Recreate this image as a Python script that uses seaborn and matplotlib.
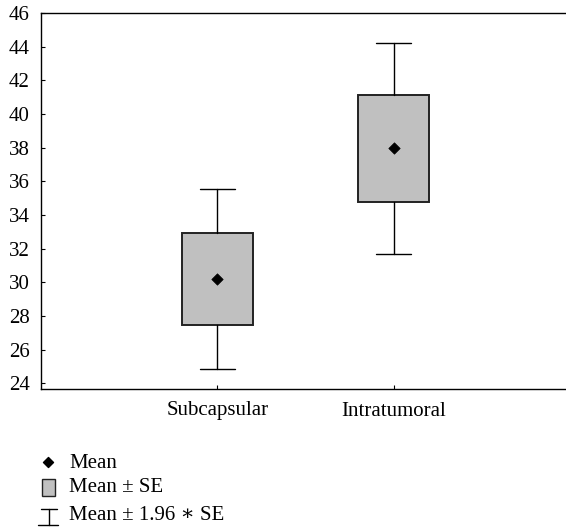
import numpy as np
import matplotlib
matplotlib.use("Agg")
import matplotlib.pyplot as plt
import seaborn as sns

# values
categories = ["Subcapsular", "Intratumoral"]
means = [30.22, 37.95]
se = [2.73, 3.19]
yticks = [24, 26, 28, 30, 32, 34, 36, 38, 40, 42, 44, 46]

sns.set_style("ticks")
plt.rcParams["font.family"] = ["Liberation Serif", "DejaVu Serif"]
plt.rcParams["font.size"] = 15
plt.rcParams["text.color"] = "black"
plt.rcParams["xtick.color"] = "black"
plt.rcParams["ytick.color"] = "black"
plt.rcParams["axes.edgecolor"] = "black"

fig = plt.figure(figsize=(5.66, 5.29), dpi=100)
ax = fig.add_axes([41 / 566, 1 - 389 / 529, (570 - 41) / 566, (389 - 13) / 529])

positions = np.arange(len(categories))
stats = []
for m, s in zip(means, se):
    stats.append({
        "med": m, "mean": m,
        "q1": m - s, "q3": m + s,
        "whislo": m - 1.96 * s, "whishi": m + 1.96 * s,
        "fliers": [],
    })

ax.bxp(stats, positions=positions, widths=0.4, capwidths=0.2,
       patch_artist=True, showfliers=False,
       boxprops={"facecolor": "#c0c0c0", "edgecolor": "#222222", "linewidth": 1.4},
       whiskerprops={"color": "black", "linewidth": 1.0},
       capprops={"color": "black", "linewidth": 1.0},
       medianprops={"linewidth": 0})

sns.scatterplot(x=positions, y=means, marker="D", s=34, color="black",
                edgecolor="black", ax=ax, zorder=5, legend=False)

ax.set_xlim(-1, 2)
ax.set_ylim(23.66, 46)
ax.set_yticks(yticks)
ax.set_xticks(positions)
ax.set_xticklabels(categories)
ax.tick_params(direction="in", length=3, width=0.8, labelsize=15,
               labelcolor="black")
ax.tick_params(axis="x", pad=9)
ax.tick_params(axis="y", pad=8)
for side in ["left", "bottom", "top"]:
    ax.spines[side].set_linewidth(1.0)
ax.spines["right"].set_visible(False)

# legend block drawn in pixel coordinates
lg = fig.add_axes([0, 0, 1, 1], facecolor="none")
lg.set_xlim(0, 566)
lg.set_ylim(529, 0)
lg.axis("off")
lg.scatter([48], [462], marker="D", s=26, color="black")
lg.add_patch(plt.Rectangle((42, 479), 13, 17, facecolor="#c0c0c0",
                           edgecolor="#222222", linewidth=1.0))
lg.plot([41, 57], [509, 509], color="black", linewidth=1.0)
lg.plot([49, 49], [509, 525], color="black", linewidth=1.0)
lg.plot([38, 58], [525, 525], color="black", linewidth=1.0)
lg.text(69, 463, "Mean", va="center", fontsize=15)
lg.text(69, 488, "Mean ± SE", va="center", fontsize=15)
lg.text(69, 515, "Mean ± 1.96 ∗ SE", va="center", fontsize=15)

fig.savefig("out.png", dpi=100)
